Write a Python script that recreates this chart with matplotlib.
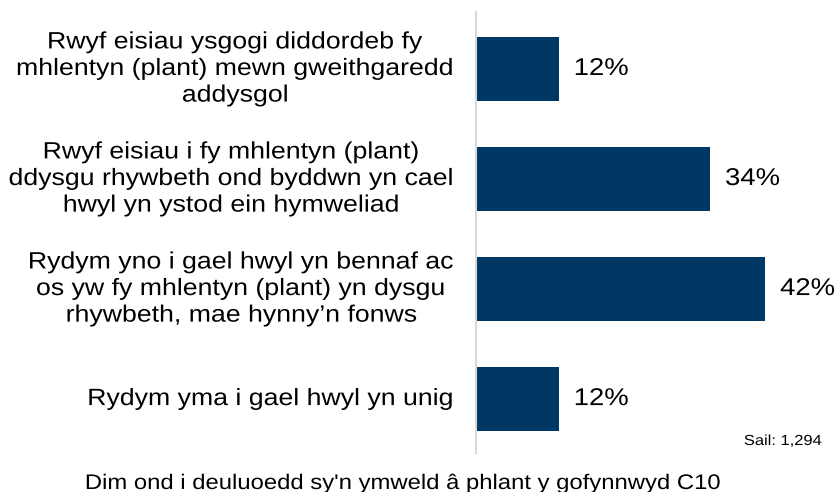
import matplotlib
matplotlib.use('Agg')
import matplotlib.pyplot as plt
from matplotlib import patheffects
from matplotlib.transforms import Affine2D
import numpy as np

plt.rcParams['font.family'] = ['Liberation Sans', 'DejaVu Sans']

categories = [
    'Rwyf eisiau ysgogi diddordeb fy\nmhlentyn (plant) mewn gweithgaredd\naddysgol',
    'Rwyf eisiau i fy mhlentyn (plant)\nddysgu rhywbeth ond byddwn yn cael\nhwyl yn ystod ein hymweliad',
    'Rydym yno i gael hwyl yn bennaf ac\nos yw fy mhlentyn (plant) yn dysgu\nrhywbeth, mae hynny\u2019n fonws',
    'Rydym yma i gael hwyl yn unig',
]
values = [12, 34, 42, 12]
value_labels = ['12%', '34%', '42%', '12%']
base_note = 'Sail: 1,294'
footer = "Dim ond i deuluoedd sy'n ymweld â phlant y gofynnwyd C10"

SX = 1.13  # the source picture's text is a bit wider than plain Arial


class StretchX(patheffects.AbstractPathEffect):
    # widen the glyphs of one text about its anchor edge
    def __init__(self, text, sx):
        super().__init__()
        self.text = text
        self.sx = sx

    def draw_path(self, renderer, gc, tpath, affine, rgbFace=None):
        bb = self.text.get_window_extent()
        ha = self.text.get_horizontalalignment()
        if ha == 'right':
            x0 = bb.x1
        elif ha == 'left':
            x0 = bb.x0
        else:
            x0 = (bb.x0 + bb.x1) / 2
        t = affine + Affine2D().translate(-x0, 0).scale(self.sx, 1).translate(x0, 0)
        renderer.draw_path(gc, tpath, t, rgbFace)


def widen(t, sx=SX):
    t.set_path_effects([StretchX(t, sx)])
    return t


W, H = 839, 492
fig = plt.figure(figsize=(W / 100, H / 100), dpi=100)
left, right = 476 / W, 820 / W
top, bottom = 1 - 12 / H, 1 - 453 / H
ax = fig.add_axes([left, bottom, right - left, top - bottom])
ax_w = (right - left) * W

y = np.arange(len(categories))
ax.barh(y, values, height=0.58, color='#003865')
ax.set_xlim(0, (820 - 476) / 6.88)
ax.set_ylim(3 + 0.49, -0.518)

for yi, v, lab in zip(y, values, value_labels):
    widen(ax.text(v + 2.2, yi, lab, va='center', ha='left', fontsize=17.5, color='#000000'))

for yi, cat in zip(y, categories):
    widen(ax.text(-21 / ax_w, yi, cat, transform=ax.get_yaxis_transform(),
                  ha='right', va='center', multialignment='center',
                  fontsize=17, linespacing=1.27))

ax.set_yticks([])
ax.set_xticks([])
for s in ['top', 'right', 'bottom']:
    ax.spines[s].set_visible(False)
ax.spines['left'].set_color('#d9d9d9')
ax.spines['left'].set_linewidth(1.5)

widen(fig.text(783 / W, 1 - 445 / H, base_note, ha='center', va='baseline', fontsize=10.5))
widen(fig.text(403 / W, 1 - 489 / H, footer, ha='center', va='baseline', fontsize=15.2))

fig.savefig('out.png', dpi=100)
